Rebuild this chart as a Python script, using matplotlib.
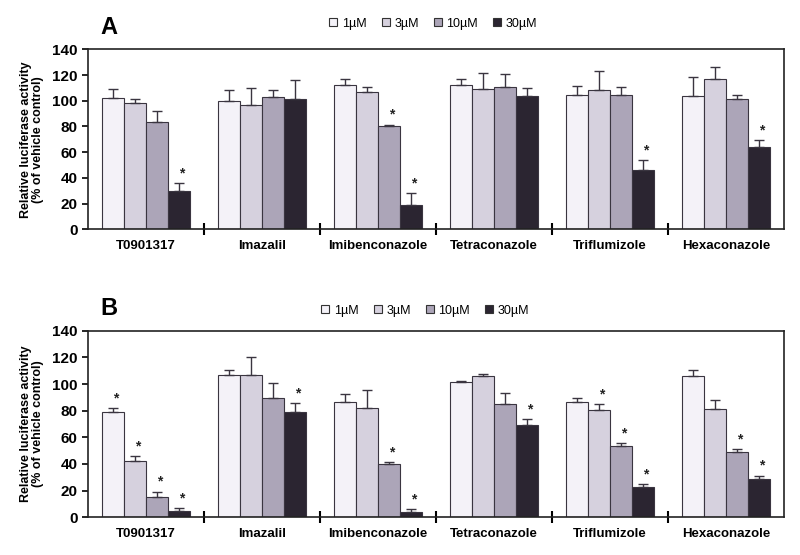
import numpy as np
import matplotlib
matplotlib.use("Agg")
import matplotlib.pyplot as plt
from matplotlib.lines import Line2D

plt.rcParams['font.family'] = ['Liberation Sans', 'DejaVu Sans']

categories = ['T0901317', 'Imazalil', 'Imibenconazole', 'Tetraconazole', 'Triflumizole', 'Hexaconazole']
doses = ['1µM', '3µM', '10µM', '30µM']
colors = ['#f4f2f8', '#d6d1de', '#aca5b8', '#2b2531']

# panel A: means and upper error per dose
a_means = [
    [102, 100, 112, 112, 104.7, 103.7],
    [98.5, 97, 107, 109.4, 108.6, 116.7],
    [83.7, 103, 80.5, 111, 104.7, 101],
    [29.5, 101, 18.7, 103.7, 46.4, 64],
]
a_err = [
    [7, 8.6, 4.7, 4.7, 6.5, 14.8],
    [2.5, 13, 4, 12, 14.5, 9.6],
    [8, 5.6, 1, 10, 6, 3.6],
    [6.3, 15.4, 9.5, 6.5, 7.8, 5.2],
]
a_stars = [(0, 3), (2, 2), (2, 3), (4, 3), (5, 3)]

# panel B
b_means = [
    [79, 107, 86.6, 101.2, 86.9, 106.2],
    [42, 107, 82, 106.2, 80.4, 81.6],
    [15.5, 89.7, 40, 85, 53.8, 49],
    [5, 79, 4, 69, 22.5, 28.5],
]
b_err = [
    [3, 3.7, 6, 1.2, 3, 4.5],
    [4.2, 13, 13.6, 1.5, 4.7, 6.6],
    [3.8, 11, 1.3, 8.6, 2, 2.2],
    [2, 6.5, 2, 4.8, 2.5, 2.8],
]
b_stars = [(0, 0), (0, 1), (0, 2), (0, 3), (1, 3), (2, 2), (2, 3), (3, 3),
           (4, 1), (4, 2), (4, 3), (5, 2), (5, 3)]


def draw_panel(ax, means, errs, stars, letter, legend_xy):
    x = np.arange(len(categories))
    w = 0.19
    for i in range(4):
        pos = x + (i - 1.5) * w
        ax.bar(pos, means[i], w, color=colors[i], edgecolor='#3a3540', linewidth=0.8,
               yerr=[np.zeros(len(x)), errs[i]], capsize=3.5,
               error_kw=dict(ecolor='#3a3540', elinewidth=1.0, capthick=1.0))
    for c, i in stars:
        pos = x[c] + (i - 1.5) * w
        ax.text(pos + 0.02, means[i][c] + errs[i][c] + 2, '*', ha='center', va='bottom',
                fontsize=10, fontweight='bold', color='#222222')
    ax.set_xlim(-0.5, len(categories) - 0.5)
    ax.set_ylim(0, 140)
    ax.set_yticks(range(0, 141, 20))
    ax.set_xticks(x[:-1] + 0.5)
    ax.set_xticklabels([])
    ax.set_xticks(x, minor=True)
    ax.set_xticklabels(categories, minor=True, fontweight='bold', fontsize=9.5)
    ax.tick_params(axis='x', which='major', direction='inout', length=8, width=1.5)
    ax.tick_params(axis='x', which='minor', length=0, pad=8)
    ax.tick_params(axis='y', direction='out', length=4, width=1.2, labelsize=11)
    for lab in ax.get_yticklabels():
        lab.set_fontweight('bold')
    for s in ax.spines.values():
        s.set_linewidth(1.2)
        s.set_color('#222222')
    ax.set_ylabel('Relative luciferase activity\n(% of vehicle control)', fontsize=9,
                  fontweight='bold', labelpad=6, linespacing=1.0)
    ax.text(0.018, 1.06, letter, transform=ax.transAxes, fontsize=17, fontweight='bold',
            va='bottom')
    handles = [Line2D([], [], marker='s', linestyle='', markersize=5.5,
                      markerfacecolor=colors[i], markeredgecolor='#333333', markeredgewidth=0.8)
               for i in range(4)]
    fig.legend(handles, doses, loc='center', bbox_to_anchor=legend_xy, ncol=4,
               frameon=False, fontsize=9, handletextpad=0.2, columnspacing=1.0,
               handlelength=1.0)


fig = plt.figure(figsize=(8, 5.55), dpi=100)
ax_a = fig.add_axes([0.11, 0.587, 0.87, 0.324])
ax_b = fig.add_axes([0.11, 0.068, 0.87, 0.336])
draw_panel(ax_a, a_means, a_err, a_stars, 'A', (0.54, 0.957))
draw_panel(ax_b, b_means, b_err, b_stars, 'B', (0.53, 0.44))

fig.savefig('out.png', dpi=100)
